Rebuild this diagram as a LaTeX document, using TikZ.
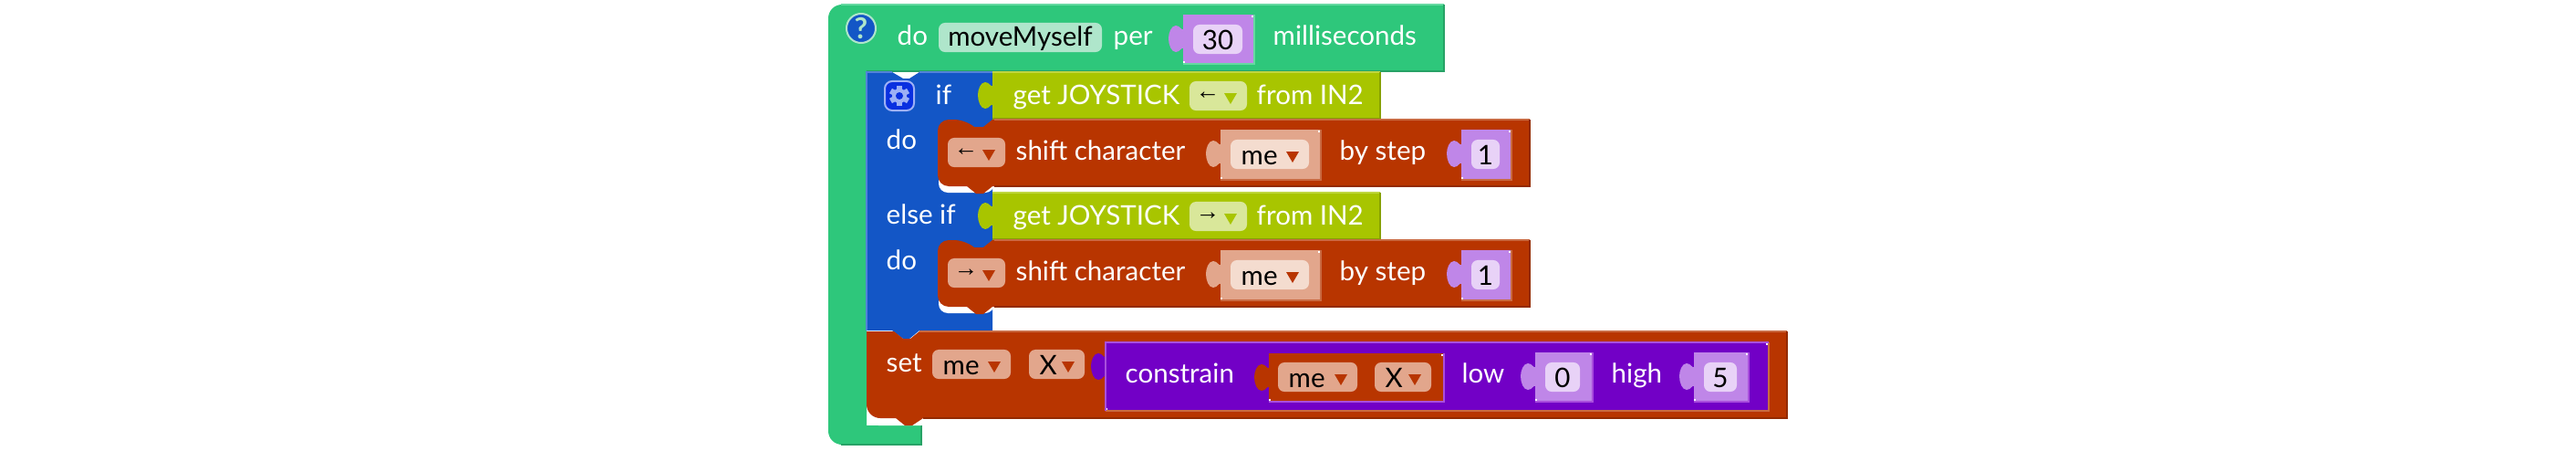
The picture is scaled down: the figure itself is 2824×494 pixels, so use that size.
\documentclass[tikz,border=0pt]{standalone}
\usepackage{fontspec}
\setmainfont{Lato}
\newfontfamily\symfont{Liberation Sans}
\definecolor{hatgreen}{HTML}{2EC77B}
\definecolor{hatlight}{HTML}{66D9A2}
\definecolor{hatdark}{HTML}{27A266}
\definecolor{hatpale}{HTML}{AFE6CB}
\definecolor{ifblue}{HTML}{1356C6}
\definecolor{iflight}{HTML}{5283D8}
\definecolor{gearblue}{HTML}{0A30E0}
\definecolor{gearpale}{HTML}{9DB0F5}
\definecolor{olive}{HTML}{A8C500}
\definecolor{olivelight}{HTML}{BFD640}
\definecolor{olivedark}{HTML}{86A000}
\definecolor{olivepale}{HTML}{D9E79A}
\definecolor{rust}{HTML}{B83500}
\definecolor{rustlight}{HTML}{C96A42}
\definecolor{rustdark}{HTML}{922A00}
\definecolor{rustsoft}{HTML}{E2A68C}
\definecolor{rustpale}{HTML}{F4DCCF}
\definecolor{lilac}{HTML}{BF86E8}
\definecolor{lilacpale}{HTML}{E8D2F7}
\definecolor{violet}{HTML}{7200C6}
\definecolor{violetlight}{HTML}{A94FDD}
\tikzset{
	lbl/.style={text=white, anchor=base west, inner sep=0pt, font=\fontsize{8.4}{10}\selectfont},
	val/.style={lbl, text=black},
	pillbox/.style={rounded corners=.07cm, inner sep=0pt, minimum height=.32cm},
	edge/.style={line width=.02cm},
}
% tab on the left side of a value block: x, top, colour
\newcommand{\blocktab}[3]{
	\fill[shift={(#1,#2)}, #3] (.5,16) .. controls (-2,18) and (-3,12) .. (-8,12) .. controls (-13,12) and (-16,20) .. (-16,26) .. controls (-16,33) and (-13,41) .. (-8,41) .. controls (-3,41) and (-2,35) .. (.5,37) -- cycle;
}
% value block: x1, x2, top, bottom, colour, edge colour
\newcommand{\valblock}[6]{
	\blocktab{#1}{#3}{#5}
	\fill[#5] (#1,#3) rectangle (#2,#4);
	\draw[edge, #6] (#1,#4) -- (#2,#4) -- (#2,#3);
	\fill[white] (#1,#4-1) rectangle (#1+2,#4-3);
	\fill[white] (#2-3,#3+1) rectangle (#2-1,#3+3);
}
% pill with a centred text: name, x1, x2, centre y, colour, text
\newcommand{\numpill}[6]{
	\node[pillbox, fill=#5, minimum width={(#3-#2)*.01cm}] (#1) at ({(#2+#3)/2},#4) {};
	\node[val] (#1txt) at (#1.center) [anchor=center, yshift=-.01cm] {#6};
}
% pill with a text and a triangle: name, x1, x2, centre y, colour, triangle colour, text
\newcommand{\ddpill}[7]{
	\node[pillbox, fill=#5, minimum width={(#3-#2)*.01cm}] (#1) at ({(#2+#3)/2},#4) {};
	\node[val] (#1txt) at (#2+11,#4+11) {#7};
	\fill[#6] (#3-25,#4-3) -- (#3-11,#4-3) -- (#3-18,#4+9) -- cycle;
}
% arrow in a pill: name, x1, x2, centre y, colour, triangle colour, arrow
\newcommand{\arrowpill}[7]{
	\node[pillbox, fill=#5, minimum width={(#3-#2)*.01cm}] (#1) at ({(#2+#3)/2},#4) {};
	\node[inner sep=0pt, font=\symfont\fontsize{7.5}{9}\selectfont] (#1txt) at (#2+20,#4) {#7};
	\fill[#6] (#3-25,#4-3) -- (#3-11,#4-3) -- (#3-18,#4+9) -- cycle;
}
% olive row: name, top, arrow
\newcommand{\joyrow}[3]{
	\blocktab{1088}{#2-1}{olive}
	\fill[olive] (1088,#2) rectangle (1513,#2+51);
	\draw[edge, olivelight] (1088,#2) -- (1513,#2);
	\draw[edge, olivedark] (1088,#2+51) -- (1513,#2+51) -- (1513,#2);
	\node[lbl] (get#1) at (1110,#2+35) {get JOYSTICK};
	\arrowpill{joy#1}{1304}{1367}{#2+26}{olivepale}{olive}{#3}
	\node[lbl] (from#1) at (1377,#2+35) {from IN2};
}
% rust row: name, top, arrow
\newcommand{\shiftrow}[3]{
	\fill[white] (1029,#2+55) [rounded corners=.1cm] -- (1029,#2+80) -- (1090,#2+80) [sharp corners] -- (1090,#2+55) -- cycle;
	\fill[rust] (1677,#2) -- (1677,#2+73) -- (1088,#2+73) -- (1078,#2+81) -- (1070,#2+81) -- (1060,#2+73) [rounded corners=.12cm] -- (1028,#2+73) -- (1028,#2) -- (1058,#2) [sharp corners] -- (1068,#2+8) -- (1078,#2+8) -- (1088,#2) -- cycle;
	\draw[edge, rustlight] (1090,#2) -- (1677,#2);
	\draw[edge, rustdark] (1090,#2+73) -- (1677,#2+73) -- (1677,#2);
	\arrowpill{key#1}{1039}{1102}{#2+36}{rustsoft}{rust}{#3}
	\node[lbl] (shift#1) at (1113,#2+44) {shift character};
	\valblock{1338}{1448}{#2+11}{#2+66}{rustsoft}{rustlight}
	\ddpill{who#1}{1349}{1435}{#2+38}{rustpale}{rust}{me}
	\node[lbl] (by#1) at (1468,#2+44) {by step};
	\valblock{1602}{1657}{#2+11}{#2+66}{lilac}{rustlight}
	\numpill{step#1}{1613}{1644}{#2+38}{lilacpale}{1}
}
\begin{document}
\begin{tikzpicture}[x=.01cm, y=-.01cm]
	\useasboundingbox (0,0) rectangle (2824,494);

	%hat block
	\fill[hatgreen] (1583,5) -- (1583,78) -- (950,78) -- (950,466) -- (1010,466) -- (1010,487) [rounded corners=.15cm] -- (908,487) -- (908,5) [sharp corners] -- cycle;
	\draw[edge, hatlight] (922,5) -- (1583,5);
	\draw[edge, hatdark] (950,78) -- (1583,78) -- (1583,5);
	\draw[edge, hatdark] (922,487) -- (1010,487) -- (1010,466);
	\fill[white] (951,440) [rounded corners=.12cm] -- (951,466) [sharp corners] -- (1010,466) -- (1010,440) -- cycle;
	\node[circle, fill=ifblue, draw=hatpale, line width=.02cm, minimum size=.32cm, inner sep=0pt, text=hatpale, font=\bfseries\fontsize{9}{9}\selectfont] (help) at (944,31) {?};
	\node[lbl] (do) at (983,50) {do};
	\numpill{funcname}{1029}{1208}{41}{hatpale}{moveMyself}
	\node[lbl] (per) at (1220,50) {per};
	\valblock{1297}{1375}{16}{70}{lilac}{hatlight}
	\numpill{period}{1308}{1362}{43}{lilacpale}{30}
	\node[lbl] (msec) at (1395,50) {milliseconds};

	%if block
	\fill[ifblue] (950,79) -- (978,79) -- (990,86) -- (997,86) -- (1008,79) -- (1088,79) -- (1088,362) -- (1008,362) -- (997,371) -- (990,371) -- (978,362) -- (950,362) -- cycle;
	\draw[edge, iflight] (950,362) -- (950,79) -- (978,79);
	\draw[edge, iflight] (1008,79) -- (1088,79);
	\node[rounded corners=.08cm, fill=gearblue, draw=gearpale, line width=.02cm, minimum size=.32cm, inner sep=0pt] (gear) at (986,105) {};
	\foreach \a in {0,60,...,300}
		\fill[gearpale, shift={(gear.center)}, rotate=\a] (-3,-11) rectangle (3,0);
	\fill[gearpale] (gear.center) circle (8);
	\fill[gearblue] (gear.center) circle (4);
	\node[lbl] (if) at (1025,114) {if};
	\node[lbl] (do1) at (971,163) {do};
	\node[lbl] (elseif) at (971,245) {else if};
	\node[lbl] (do2) at (971,295) {do};

	%joystick rows
	\joyrow{1}{79}{←}
	\joyrow{2}{211}{→}

	%shift rows
	\shiftrow{1}{131}{←}
	\shiftrow{2}{263}{→}

	%set block
	\fill[rust] (1959,363) -- (1959,458) -- (1012,458) -- (1000,466) -- (992,466) -- (982,458) [rounded corners=.15cm] -- (950,458) [sharp corners] -- (950,363) -- (980,363) -- (990,371) -- (998,371) -- (1008,363) -- cycle;
	\draw[edge, rustlight] (1008,363) -- (1959,363);
	\draw[edge, rustdark] (1012,458) -- (1959,458) -- (1959,363);
	\node[lbl] (set) at (971,407) {set};
	\ddpill{setwho}{1022}{1108}{399}{rustsoft}{rust}{me}
	\ddpill{setaxis}{1128}{1189}{399}{rustsoft}{rust}{X}

	%constrain block
	\valblock{1212}{1939}{375}{450}{violet}{rustlight}
	\draw[edge, violetlight] (1212,450) -- (1212,375) -- (1939,375);
	\node[lbl] (constrain) at (1233,419) {constrain};
	\valblock{1391}{1583}{387}{440}{rust}{violetlight}
	\ddpill{getwho}{1401}{1488}{413}{rustsoft}{rust}{me}
	\ddpill{getaxis}{1507}{1569}{413}{rustsoft}{rust}{X}
	\node[lbl] (low) at (1602,419) {low};
	\valblock{1683}{1746}{386}{440}{lilac}{violetlight}
	\numpill{lowval}{1694}{1732}{413}{lilacpale}{0}
	\node[lbl] (high) at (1766,419) {high};
	\valblock{1857}{1917}{386}{440}{lilac}{violetlight}
	\numpill{highval}{1868}{1904}{413}{lilacpale}{5}
\end{tikzpicture}
\end{document}
